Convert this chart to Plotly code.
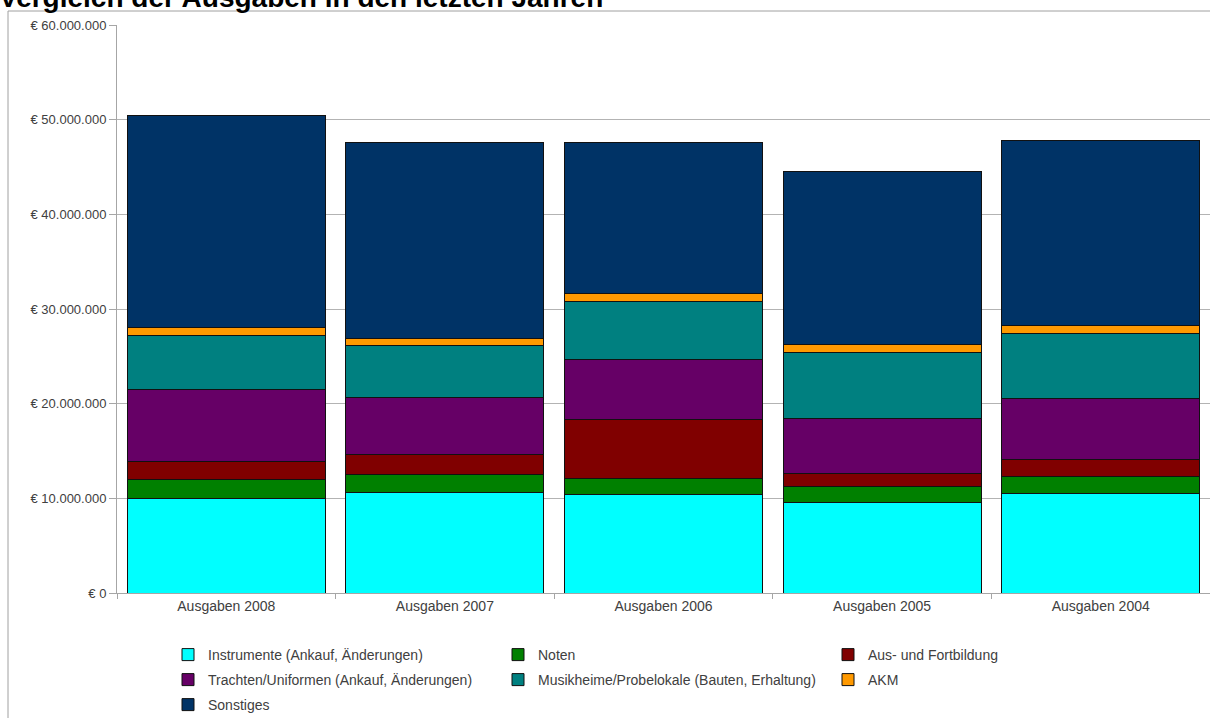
import plotly.graph_objects as go

categories = ["Ausgaben 2008", "Ausgaben 2007", "Ausgaben 2006", "Ausgaben 2005", "Ausgaben 2004"]

instrumente = [10010000, 10640000, 10360000, 9550000, 10470000]
noten = [1940000, 1910000, 1760000, 1690000, 1830000]
ausbildung = [1930000, 2040000, 6240000, 1410000, 1760000]
trachten = [7580000, 6060000, 6270000, 5820000, 6450000]
musikheime = [5780000, 5460000, 6200000, 6970000, 6900000]
akm = [810000, 820000, 850000, 850000, 850000]
sonstiges = [22400000, 20610000, 15860000, 18240000, 19550000]

series_names = [
    "Instrumente (Ankauf, Änderungen)",
    "Noten",
    "Aus- und Fortbildung",
    "Trachten/Uniformen (Ankauf, Änderungen)",
    "Musikheime/Probelokale (Bauten, Erhaltung)",
    "AKM",
    "Sonstiges",
]
series_values = [instrumente, noten, ausbildung, trachten, musikheime, akm, sonstiges]
colors = ["#00FFFF", "#008000", "#800000", "#660066", "#008080", "#FF9900", "#003366"]
legend_rows = ["legend", "legend", "legend", "legend2", "legend2", "legend2", "legend3"]

tick_vals = [0, 10000000, 20000000, 30000000, 40000000, 50000000, 60000000]
tick_text = ["€ 0", "€ 10.000.000", "€ 20.000.000", "€ 30.000.000",
             "€ 40.000.000", "€ 50.000.000", "€ 60.000.000"]

title_text = "Vergleich der Ausgaben in den letzten Jahren"

FONT = "Liberation Sans Narrow, Liberation Sans, sans-serif"

fig = go.Figure()
for name, vals, col, lg in zip(series_names, series_values, colors, legend_rows):
    fig.add_trace(go.Bar(
        x=categories, y=vals, name=name, legend=lg,
        marker=dict(color=col, line=dict(color="#111111", width=1)),
    ))

W, H = 1210, 718
L, R, T, B = 117, 0, 25, 125
pw, ph = W - L - R, H - T - B


def legend_at(top_px):
    return dict(
        orientation="h", x=(168 - L) / pw, xanchor="left",
        y=-(top_px - (T + ph)) / ph, yanchor="top",
        entrywidth=285, entrywidthmode="pixels",
        traceorder="normal",
        font=dict(family=FONT, size=14, color="#404040"),
        itemwidth=30,
        bgcolor="rgba(0,0,0,0)",
    )


fig.update_layout(
    width=W, height=H,
    barmode="stack", bargap=0.095,
    margin=dict(l=L, r=R, t=T, b=B, autoexpand=False),
    paper_bgcolor="white", plot_bgcolor="white",
    font=dict(family=FONT, size=13, color="#404040"),
    showlegend=True,
    legend=legend_at(639),
    legend2=legend_at(664),
    legend3=legend_at(689),
    xaxis=dict(
        showline=True, linecolor="#a6a6a6", linewidth=1,
        ticks="outside", tickson="boundaries", ticklen=5, tickcolor="#a6a6a6",
        tickfont=dict(family=FONT, size=14, color="#404040"),
        showgrid=False,
    ),
    yaxis=dict(
        range=[0, 60000000],
        tickvals=tick_vals, ticktext=tick_text,
        showline=True, linecolor="#a6a6a6", linewidth=1,
        ticks="outside", ticklen=7, tickcolor="#a6a6a6",
        showgrid=True, gridcolor="#b3b3b3", gridwidth=1,
        zeroline=False,
        tickfont=dict(family=FONT, size=13, color="#404040"),
    ),
    annotations=[dict(
        text="<b>" + title_text + "</b>",
        xref="paper", yref="paper",
        x=(-3 - L) / pw, y=1 + (T + 3) / ph,
        xanchor="left", yanchor="middle", showarrow=False,
        font=dict(family="Liberation Sans, sans-serif", size=28, color="#000000"),
    )],
    shapes=[dict(
        type="rect", xref="paper", yref="paper",
        x0=(8 - L) / pw, x1=1.05,
        y0=-(H + 20 - T - ph) / ph, y1=1 + (T - 11) / ph,
        line=dict(color="#a0a0a0", width=1), layer="below",
    )],
)

fig.write_html(
    "out.html",
    config={"displayModeBar": False},
    post_script="document.body.style.margin='0px';document.body.style.overflow='hidden';",
)
